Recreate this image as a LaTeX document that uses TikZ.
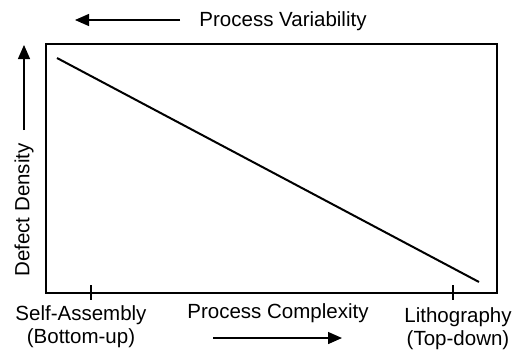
\documentclass[tikz,border=0pt]{standalone}
\usepackage{fontspec}
\setmainfont{Liberation Sans}
\usetikzlibrary{arrows.meta,positioning}
\tikzset{
  axislabel/.style={font=\fontsize{20.5}{23}\selectfont, inner sep=0pt, align=center},
  axisarrow/.style={-{Triangle[length=14pt,width=12pt]}, line width=1.4pt},
  plotframe/.style={line width=2pt},
  trendline/.style={line width=2pt},
  tickmark/.style={line width=1.6pt}
}

\begin{document}
\begin{tikzpicture}[x=1pt,y=-1pt]
\useasboundingbox (0,0) rectangle (526,356);

% frame and the falling trend
\coordinate (sw) at (46,293);
\coordinate (ne) at (497,44);
\draw[plotframe] (sw) rectangle (ne);
\coordinate (hi) at (57,58);
\coordinate (lo) at (479,282);
\draw[trendline] (hi) -- (lo);

% ticks on the bottom axis
\coordinate (tickA) at (91,285);
\coordinate (tickB) at (453,285);
\draw[tickmark] (tickA) -- ++(0,15);
\draw[tickmark] (tickB) -- ++(0,15);

% labels
\node[axislabel] (variability) at (283,21) {Process Variability};
\node[axislabel, rotate=90] (density) at (24,210) {Defect Density};
\node[axislabel] (selfasm) at (81,327) {Self-Assembly\\(Bottom-up)};
\node[axislabel] (complexity) at (278,313) {Process Complexity};
\node[axislabel] (litho) at (458,329) {Lithography\\(Top-down)};

% direction arrows
\coordinate (varA) at (180,20);
\coordinate (varB) at (75,20);
\coordinate (denA) at (24,130);
\coordinate (denB) at (24,45);
\coordinate (cmpA) at (213,338);
\coordinate (cmpB) at (342,338);
\draw[axisarrow] (varA) -- (varB);
\draw[axisarrow] (denA) -- (denB);
\draw[axisarrow] (cmpA) -- (cmpB);
\end{tikzpicture}
\end{document}
